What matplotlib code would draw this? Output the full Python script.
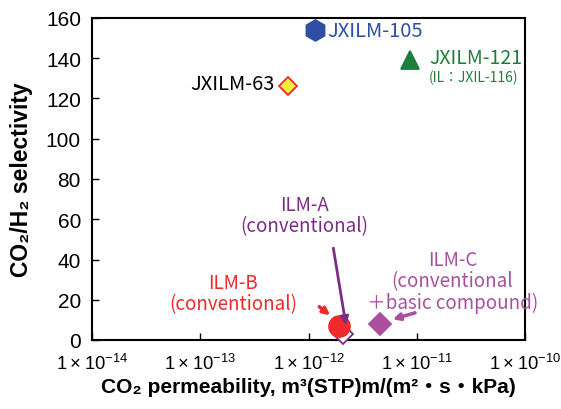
import matplotlib
matplotlib.use('Agg')
import matplotlib.pyplot as plt
import numpy as np

plt.rcParams['font.family'] = ['Noto Sans CJK JP', 'DejaVu Sans']
plt.rcParams['mathtext.fontset'] = 'custom'
plt.rcParams['mathtext.rm'] = 'Liberation Sans'

# membranes: name, permeability [m3(STP)m/(m2 s kPa)], CO2/H2 selectivity
names = ['JXILM-105', 'JXILM-121', 'JXILM-63', 'ILM-A', 'ILM-B', 'ILM-C']
perm = [1.15e-12, 8.7e-12, 6.5e-13, 2.08e-12, 1.9e-12, 4.6e-12]
selec = [154, 139, 126, 3, 7, 8]
markers = ['h', '^', 'D', 'D', 'o', 'D']
faces = ['#2e4fa3', '#1d7f3b', '#f5ee3c', 'white', '#ee2a2a', '#a8509e']
edges = ['#2e4fa3', '#1d7f3b', '#ee2a2a', '#7a2d85', '#ee2a2a', '#a8509e']
sizes = [15, 13, 9, 10, 15, 11]

xticks = [1e-14, 1e-13, 1e-12, 1e-11, 1e-10]
xticklabels = [r'$1\times10^{-14}$', r'$1\times10^{-13}$', r'$1\times10^{-12}$',
               r'$1\times10^{-11}$', r'$1\times10^{-10}$']
yticks = [0, 20, 40, 60, 80, 100, 120, 140, 160]

lab_font = ['Liberation Sans', 'DejaVu Sans', 'Noto Sans CJK JP']

fig = plt.figure(figsize=(5.61, 4.10), dpi=100)
ax = fig.add_axes([92/561, 69/410, 433/561, 322/410])

ax.set_xscale('log')
ax.set_xlim(1e-14, 1e-10)
ax.set_ylim(0, 160)

order = [3, 4, 5, 2, 0, 1]
for i in order:
    ax.plot(perm[i], selec[i], marker=markers[i], ms=sizes[i], mfc=faces[i],
            mec=edges[i], mew=1.3, ls='none', zorder=4 + order.index(i) * 0.1,
            clip_on=False)

ax.set_xticks(xticks)
ax.set_xticklabels(xticklabels, fontsize=13.2)
ax.xaxis.set_minor_locator(matplotlib.ticker.NullLocator())
ax.set_yticks(yticks)
ax.set_yticklabels([str(v) for v in yticks], fontsize=15, family='Liberation Sans')
ax.tick_params(direction='in', length=5, width=1)
ax.tick_params(axis='x', pad=9)
ax.tick_params(axis='y', pad=8)
for s in ax.spines.values():
    s.set_linewidth(1.5)

ax.set_xlabel('CO₂ permeability, m³(STP)m/(m²・s・kPa)', fontsize=15,
              fontweight='bold', family=lab_font, labelpad=3)
ax.set_ylabel('CO₂/H₂ selectivity', fontsize=16.5, fontweight='bold',
              family=lab_font, labelpad=9)

# labels
ax.text(1.5e-12, 154, 'JXILM-105', color='#2e4fa3', fontsize=14.5, va='center')
ax.text(1.3e-11, 140.5, 'JXILM-121', color='#1d7f3b', fontsize=14, va='center')
ax.text(1.3e-11, 130.5, '(IL：JXIL-116)', color='#1d7f3b', fontsize=10, va='center')
ax.text(4.9e-13, 127.5, 'JXILM-63', color='black', fontsize=14.5, va='center', ha='right')

ax.text(9.1e-13, 62, 'ILM-A\n(conventional)', color='#7a2d85', fontsize=13.5,
        ha='center', va='center', linespacing=1.0)
ax.annotate('', xy=(2.24e-12, 6), xytext=(1.68e-12, 47),
            arrowprops=dict(arrowstyle='-|>', color='#7a2d85', lw=2, mutation_scale=12),
            zorder=6)

ax.text(2.0e-13, 23.4, 'ILM-B\n(conventional)', color='#ee2a2a', fontsize=13.5,
        ha='center', va='center', linespacing=1.0)
ax.annotate('', xy=(1.66e-12, 11.4), xytext=(1.2e-12, 17.4),
            arrowprops=dict(arrowstyle='-|>', color='#ee2a2a', lw=2.5, mutation_scale=10),
            zorder=6)

ax.text(2.14e-11, 29.3, 'ILM-C\n(conventional\n＋basic compound)', color='#a8509e',
        fontsize=13.5, ha='center', va='center', linespacing=1.0)
ax.annotate('', xy=(5.66e-12, 9.9), xytext=(1.02e-11, 13.9),
            arrowprops=dict(arrowstyle='-|>', color='#a8509e', lw=2.5, mutation_scale=10),
            zorder=6)

fig.savefig('out.png', dpi=100)
